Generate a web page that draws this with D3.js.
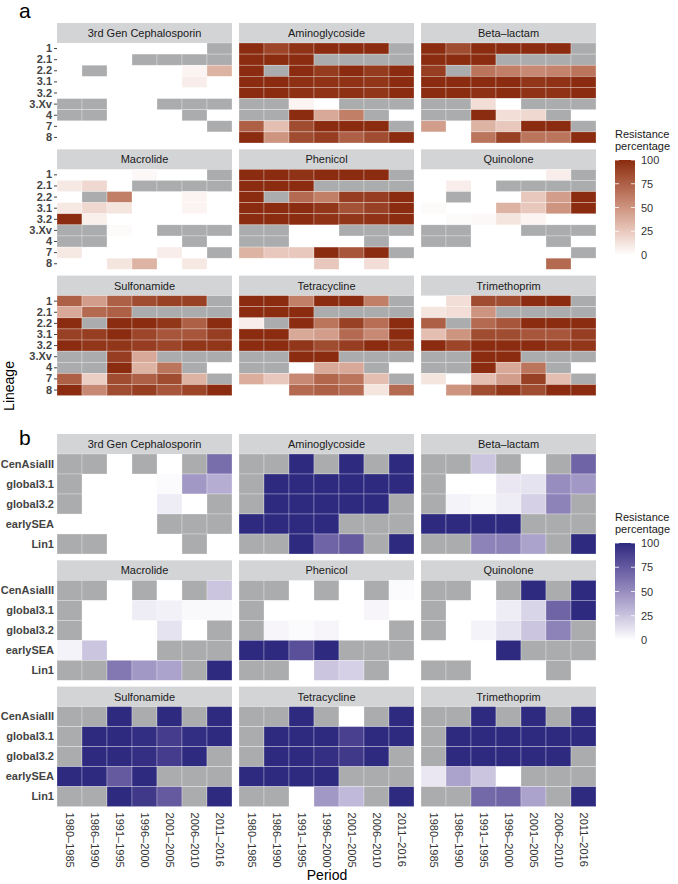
<!DOCTYPE html>
<html>
<head>
<meta charset="utf-8">
<script src="https://cdn.jsdelivr.net/npm/d3@7"></script>
<style>
  body { margin: 0; background: #fff; }
  text { font-family: "Liberation Sans", Arial, sans-serif; }
</style>
</head>
<body>
<div id="plot"></div>
<script>
// periods (x) and lineages (y)
const periods = ["1980\u20131985", "1986\u20131990", "1991\u20131995", "1996\u20132000", "2001\u20132005", "2006\u20132010", "2011\u20132016"];
const lineagesA = ["1", "2.1", "2.2", "3.1", "3.2", "3.Xv", "4", "7", "8"];
const lineagesB = ["CenAsiaIII", "global3.1", "global3.2", "earlySEA", "Lin1"];
const drugs = ["3rd Gen Cephalosporin", "Aminoglycoside", "Beta\u2013lactam", "Macrolide", "Phenicol", "Quinolone", "Sulfonamide", "Tetracycline", "Trimethoprim"];
const legendBreaks = [0, 25, 50, 75, 100];

// resistance % per lineage row, one token per period: "-" no isolates, "NA" not available
const aCephalosporin = ["- - - - - - NA", "- - - NA NA NA NA", "- NA - - - 5 35", "- - - - - 8 -", "- - - - - - -", "NA NA - - NA NA NA", "NA NA - - - NA -", "- - - - - - NA", "- - - - - - -"];
const aAminoglycoside = ["100 88 97 100 100 100 NA", "100 100 100 NA NA NA NA", "100 NA 100 93 100 93 100", "100 100 98 97 97 95 100", "100 100 98 97 98 95 100", "NA NA 5 0 NA NA NA", "NA NA 100 40 60 NA -", "75 30 85 100 100 100 NA", "100 50 85 92 75 85 100"];
const aBetaLactam = ["100 85 100 100 100 100 NA", "100 100 100 NA NA NA NA", "92 NA 65 60 55 58 65", "100 100 100 100 95 97 100", "100 100 98 100 97 97 100", "NA NA 15 0 NA NA NA", "NA NA 100 15 18 NA -", "45 - 35 25 100 100 NA", "- - 65 90 65 65 100"];
const aMacrolide = ["- - - 3 - - NA", "10 18 - NA NA NA NA", "- NA 60 - - 5 -", "10 18 12 - - 5 -", "100 7 - - - - -", "NA NA 2 - NA NA NA", "NA NA - - - NA -", "10 - - - 8 - NA", "- - 12 35 - 10 -"];
const aPhenicol = ["100 100 97 100 100 100 NA", "100 100 100 NA NA NA NA", "100 NA 70 60 92 92 100", "100 100 100 95 82 90 100", "100 100 100 97 95 97 100", "NA NA - - NA NA NA", "NA NA - - - NA -", "35 25 25 100 80 100 NA", "- - - 25 - 15 -"];
const aQuinolone = ["- - - - - 8 NA", "- 8 - NA NA NA NA", "- NA - - 25 45 100", "2 - - 35 25 50 100", "- 2 3 12 5 - -", "NA NA - - NA NA NA", "NA NA - - - NA -", "- - - - - - NA", "- - - - - 70 -"];
const aSulfonamide = ["75 45 75 85 90 90 NA", "40 70 75 NA NA NA NA", "100 NA 100 100 95 75 100", "90 92 100 88 80 80 92", "100 95 95 92 88 95 95", "NA NA 92 40 NA NA NA", "NA NA 100 35 65 NA -", "75 22 85 75 85 35 NA", "100 55 85 92 80 88 100"];
const aTetracycline = ["100 100 60 100 100 60 NA", "100 100 100 NA NA NA NA", "8 NA 100 65 90 68 100", "100 100 40 45 70 55 100", "100 100 95 85 92 100 95", "NA NA 100 100 NA NA NA", "NA NA - 40 40 NA -", "38 25 55 72 65 30 NA", "- - 70 75 70 12 70"];
const aTrimethoprim = ["- 15 85 85 100 100 NA", "12 15 50 NA NA NA NA", "75 NA 70 80 100 100 100", "30 50 85 85 80 80 92", "100 88 100 100 100 95 95", "NA NA 100 100 NA NA NA", "NA NA 100 40 65 NA -", "12 - 30 45 90 30 NA", "- 50 85 95 85 100 100"];

const bCephalosporin = ["NA NA - NA - NA 65", "NA - - - 2 45 35", "NA - - - 8 0 NA", "- - - - NA NA NA", "NA NA - - - NA -"];
const bAminoglycoside = ["NA NA 100 NA 100 NA 100", "NA 100 100 100 100 100 100", "NA 100 100 100 100 100 NA", "100 100 100 100 NA NA NA", "NA NA 100 70 75 NA 100"];
const bBetaLactam = ["NA NA 25 NA 0 NA 70", "NA 0 0 10 12 50 45", "NA 5 3 8 20 55 NA", "100 100 100 100 NA NA NA", "NA NA 55 55 40 NA 100"];
const bMacrolide = ["NA NA - NA 0 NA 25", "NA - - 8 6 3 3", "NA - - - 12 0 NA", "5 25 - - NA NA NA", "NA NA 60 45 40 NA 100"];
const bPhenicol = ["NA NA - NA 0 NA 2", "NA - - - - 4 -", "NA 4 2 4 - - NA", "100 100 80 100 NA NA NA", "NA NA - 25 20 NA -"];
const bQuinolone = ["NA NA - NA 100 NA 100", "NA - - 8 18 70 100", "NA - 5 12 25 55 NA", "- - - 100 NA NA NA", "NA NA - - - NA -"];
const bSulfonamide = ["NA NA 100 NA 100 NA 100", "NA 100 100 98 90 98 100", "NA 100 100 97 90 100 NA", "100 100 75 100 NA NA NA", "NA NA 100 92 75 NA 100"];
const bTetracycline = ["NA NA 100 NA 0 NA 100", "NA 100 100 100 88 100 100", "NA 100 100 97 92 100 NA", "100 100 100 100 NA NA NA", "NA NA - 45 30 NA 100"];
const bTrimethoprim = ["NA NA 100 NA 100 NA 100", "NA 100 100 100 100 100 100", "NA 100 100 100 100 100 NA", "10 40 25 0 NA NA NA", "NA NA 68 70 40 NA 100"];

const panelAData = [aCephalosporin, aAminoglycoside, aBetaLactam, aMacrolide, aPhenicol, aQuinolone, aSulfonamide, aTetracycline, aTrimethoprim];
const panelBData = [bCephalosporin, bAminoglycoside, bBetaLactam, bMacrolide, bPhenicol, bQuinolone, bSulfonamide, bTetracycline, bTrimethoprim];

// turn the row strings into tile records
function toTiles(rows, lineages) {
  const out = [];
  rows.forEach((r, i) => {
    r.split(" ").forEach((tok, j) => {
      if (tok === "-") return;
      out.push({ lineage: lineages[i], period: periods[j], value: tok === "NA" ? null : +tok });
    });
  });
  return out;
}

const W = 678, H = 884;
const svg = d3.select("#plot").append("svg").attr("width", W).attr("height", H);

const colX = [57, 239, 421];
const panelW = 175, panelH = 100, stripH = 20;
const naColor = "#ABACAD";

const x = d3.scaleBand().domain(periods).range([0, panelW]);

function drawPanel(cfg) {
  const y = d3.scaleBand().domain(cfg.lineages).range([0, panelH]);
  const color = d3.scaleLinear().domain([0, 100]).range(["#ffffff", cfg.high]).interpolate(d3.interpolateLab);

  drugs.forEach((drug, k) => {
    const c = k % 3, r = Math.floor(k / 3);
    const g = svg.append("g")
      .attr("transform", `translate(${colX[c]},${cfg.rowTops[r]})`);

    // facet strip
    g.append("rect")
      .attr("width", panelW).attr("height", stripH)
      .attr("fill", "#D3D4D6");
    g.append("text")
      .attr("x", panelW / 2).attr("y", stripH / 2 + 4)
      .attr("text-anchor", "middle")
      .attr("font-size", "11px")
      .attr("fill", "#1A1A1A")
      .text(drug);

    const body = g.append("g").attr("transform", `translate(0,${stripH})`);
    body.selectAll("rect.tile")
      .data(toTiles(cfg.data[k], cfg.lineages))
      .enter().append("rect")
      .attr("class", "tile")
      .attr("x", d => x(d.period))
      .attr("y", d => y(d.lineage))
      .attr("width", x.bandwidth())
      .attr("height", y.bandwidth())
      .attr("fill", d => d.value === null ? naColor : color(d.value))
      .attr("stroke", "#ffffff")
      .attr("stroke-opacity", 0.45)
      .attr("stroke-width", 0.6);

    // y axis on the first column
    if (c === 0) {
      const ax = body.append("g").call(
        d3.axisLeft(y).tickSize(cfg.tick).tickPadding(cfg.tick ? 2 : 3));
      ax.select(".domain").remove();
      ax.selectAll("line").attr("stroke", "#444");
      ax.selectAll("text")
        .attr("font-family", "Liberation Sans, Arial, sans-serif")
        .attr("font-size", "11px").attr("font-weight", "bold")
        .attr("fill", "#444");
    }
    // period labels under the last row of panel b
    if (cfg.xLabels && r === 2) {
      const ax = body.append("g")
        .attr("transform", `translate(0,${panelH})`)
        .call(d3.axisBottom(x).tickSize(0).tickPadding(0));
      ax.select(".domain").remove();
      ax.selectAll("text")
        .attr("font-family", "Liberation Sans, Arial, sans-serif")
        .attr("font-size", "11px")
        .attr("fill", "#333")
        .attr("text-anchor", "start")
        .attr("dy", "0.35em")
        .attr("transform", "translate(0,6) rotate(90)");
    }
  });

  // colour legend
  const lg = svg.append("g").attr("transform", `translate(615,0)`);
  lg.append("text").attr("x", 0).attr("y", cfg.legendTitleY)
    .attr("font-size", "11px").attr("fill", "#1A1A1A").text("Resistance");
  lg.append("text").attr("x", 0).attr("y", cfg.legendTitleY + 12)
    .attr("font-size", "11px").attr("fill", "#1A1A1A").text("percentage");

  const ly = d3.scaleLinear().domain([0, 100]).range(cfg.legendRange);
  const gid = "grad-" + cfg.id;
  const grad = svg.append("defs").append("linearGradient")
    .attr("id", gid).attr("x1", "0%").attr("x2", "0%").attr("y1", "100%").attr("y2", "0%");
  d3.range(0, 101, 10).forEach(v => {
    grad.append("stop").attr("offset", `${v}%`).attr("stop-color", color(v));
  });
  lg.append("rect")
    .attr("x", 0).attr("y", ly(100))
    .attr("width", 20).attr("height", ly(0) - ly(100))
    .attr("fill", `url(#${gid})`);
  const tg = lg.append("g");
  legendBreaks.forEach(b => {
    tg.append("line").attr("x1", 0).attr("x2", 4).attr("y1", ly(b)).attr("y2", ly(b))
      .attr("stroke", "#fff").attr("stroke-width", 0.8);
    tg.append("line").attr("x1", 16).attr("x2", 20).attr("y1", ly(b)).attr("y2", ly(b))
      .attr("stroke", "#fff").attr("stroke-width", 0.8);
  });
  lg.append("g").selectAll("text")
    .data(legendBreaks)
    .enter().append("text")
    .attr("x", 26).attr("y", d => ly(d) + 4)
    .attr("font-size", "11px").attr("fill", "#333")
    .text(d => d);

  svg.append("text")
    .attr("x", 19).attr("y", cfg.tagY)
    .attr("font-size", "21px").attr("fill", "#000")
    .text(cfg.id);
}

drawPanel({
  id: "a", lineages: lineagesA, data: panelAData, high: "#8B2B0F",
  rowTops: [23, 149.3, 275.6], tick: 3, xLabels: false,
  legendTitleY: 138, legendRange: [255, 160], tagY: 18
});
drawPanel({
  id: "b", lineages: lineagesB, data: panelBData, high: "#2D2A80",
  rowTops: [434, 560.3, 686.6], tick: 0, xLabels: true,
  legendTitleY: 521, legendRange: [640, 543], tagY: 445
});

// shared axis titles
svg.append("text")
  .attr("transform", "translate(14,386) rotate(-90)")
  .attr("text-anchor", "middle")
  .attr("font-size", "14px").attr("fill", "#000")
  .text("Lineage");
svg.append("text")
  .attr("x", 327).attr("y", 880)
  .attr("text-anchor", "middle")
  .attr("font-size", "14px").attr("fill", "#000")
  .text("Period");
</script>
</body>
</html>
